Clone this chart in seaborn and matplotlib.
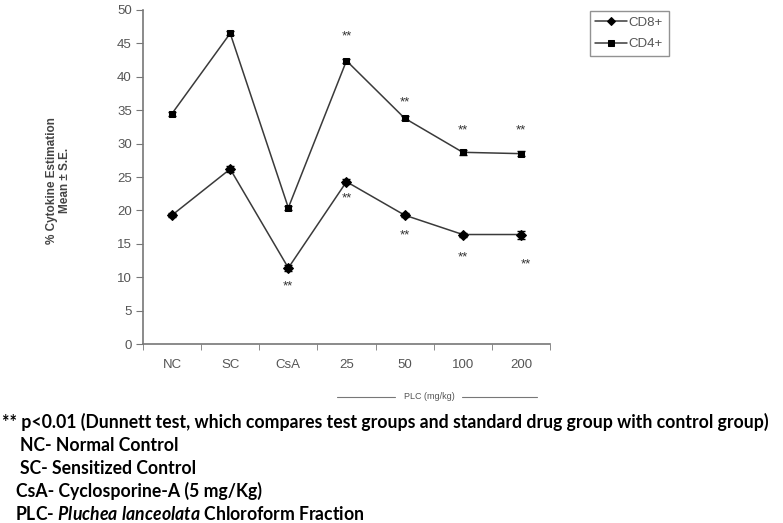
import pandas as pd
import seaborn as sns
import matplotlib.pyplot as plt

#data
groups = ["NC", "SC", "CsA", "25", "50", "100", "200"]
cd8 = [19.3, 26.2, 11.4, 24.3, 19.3, 16.4, 16.4]
cd8_se = [0.3, 0.5, 0.5, 0.4, 0.3, 0.3, 0.6]
cd4 = [34.5, 46.5, 20.4, 42.4, 33.8, 28.7, 28.5]
cd4_se = [0.3, 0.3, 0.3, 0.3, 0.3, 0.4, 0.4]

#significance marks (x index, y position)
star_x = [3, 4, 5, 6, 2, 3, 4, 5, 6.08]
star_y = [46.0, 36.2, 31.9, 31.9, 8.6, 21.8, 16.2, 13.0, 11.9]

footnotes = [
    "** p<0.01 (Dunnett test, which compares test groups and standard drug group with control group)",
    "NC- Normal Control",
    "SC- Sensitized Control",
    "CsA- Cyclosporine-A (5 mg/Kg)",
    "PLC- $\\it{Pluchea\\ lanceolata}$ Chloroform Fraction",
]
note_x = [0.002, 0.026, 0.026, 0.021, 0.019]

df = pd.DataFrame({
    "group": groups * 2,
    "value": cd8 + cd4,
    "cell": ["CD8+"] * len(groups) + ["CD4+"] * len(groups),
})

sns.set_style("white")
plt.rcParams["font.family"] = ["Liberation Sans", "DejaVu Sans"]

fig = plt.figure(figsize=(7.83, 5.23), dpi=100)
ax = fig.add_axes([0.1826, 0.342, 0.5198, 0.639])

sns.lineplot(data=df, x="group", y="value", hue="cell", style="cell",
             markers={"CD8+": "D", "CD4+": "s"}, dashes=False, sort=False,
             palette={"CD8+": "#3a3a3a", "CD4+": "#3a3a3a"},
             markersize=5, markeredgecolor="black", markerfacecolor="black",
             linewidth=1.1, ax=ax)
ax.errorbar(range(len(groups)), cd8, yerr=cd8_se, fmt="none", ecolor="black", capsize=3, lw=1)
ax.errorbar(range(len(groups)), cd4, yerr=cd4_se, fmt="none", ecolor="black", capsize=3, lw=1)

for x, y in zip(star_x, star_y):
    ax.text(x, y, "**", ha="center", va="center", fontsize=9.5, color="#333333")

ax.set_xlim(-0.5, 6.5)
ax.set_ylim(0, 50)
ax.set_yticks(range(0, 51, 5))
ax.set_xticks(range(len(groups)))
ax.set_xticklabels(groups)
ax.set_xticks([i - 0.5 for i in range(len(groups) + 1)], minor=True)
ax.tick_params(axis="x", which="major", length=0, pad=11, labelsize=9.5, labelcolor="#555555")
ax.tick_params(axis="x", which="minor", length=4, color="#777777", direction="out", bottom=True)
ax.tick_params(axis="y", length=5, color="#777777", direction="out", left=True, pad=3,
               labelsize=9.5, labelcolor="#555555")
for s in ["top", "right"]:
    ax.spines[s].set_visible(False)
for s in ["left", "bottom"]:
    ax.spines[s].set_color("#777777")
    ax.spines[s].set_linewidth(1.2)
ax.set_xlabel("")
ax.set_ylabel("")
fig.text(0.0745, 0.655, "% Cytokine Estimation\nMean ± S.E.", rotation=90, ha="center", va="center",
         fontsize=8.5, fontweight="bold", color="#444444", linespacing=1.1)

#legend outside the axes
h, l = ax.get_legend_handles_labels()
ax.legend(h, l, loc="upper left", bbox_to_anchor=(0.7445, 0.992), bbox_transform=fig.transFigure,
          frameon=True, fancybox=False, edgecolor="#777777", fontsize=9.5, labelcolor="#555555",
          handlelength=2.4, handletextpad=0.1, borderpad=0.45, labelspacing=0.7, markerscale=0.8)

#PLC bracket under the dose groups
fig.text(0.548, 0.241, "PLC (mg/kg)", ha="center", va="center", fontsize=6.5, color="#555555")
fig.add_artist(plt.Line2D([0.430, 0.504], [0.241, 0.241], color="#777777", lw=0.8))
fig.add_artist(plt.Line2D([0.590, 0.686], [0.241, 0.241], color="#777777", lw=0.8))

#footnotes
plt.rcParams["mathtext.fontset"] = "custom"
plt.rcParams["mathtext.it"] = "Lato:italic:bold"
for i, t in enumerate(footnotes):
    fig.text(note_x[i], 0.193 - i * 0.0440, t, ha="left", va="center", fontsize=12.7,
             family="Lato", fontweight="bold", color="black")

plt.savefig("out.png", dpi=100)
